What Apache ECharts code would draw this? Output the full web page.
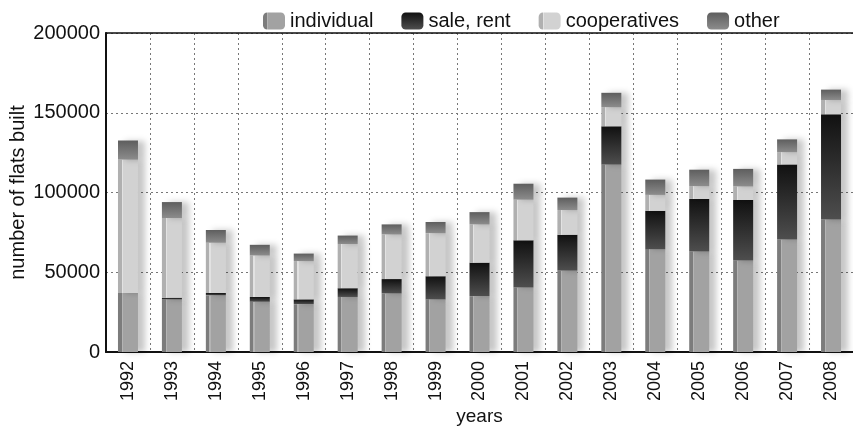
<!DOCTYPE html>
<html><head><meta charset="utf-8">
<script src="https://cdn.jsdelivr.net/npm/echarts@6/dist/echarts.min.js"></script>
<style>html,body{margin:0;padding:0;background:#fff}#c{width:853px;height:426px}</style>
</head><body><div id="c"></div>
<script>
var years = ['1992','1993','1994','1995','1996','1997','1998','1999','2000','2001','2002','2003','2004','2005','2006','2007','2008'];
var individual   = [37000, 33000, 35500, 31500, 30000, 34500, 36700, 33000, 35000, 40500, 51000, 117500, 64500, 63000, 57300, 70600, 83000];
var saleRent     = [0, 1000, 1500, 3000, 3000, 5500, 9000, 14500, 21000, 29500, 22500, 24000, 24000, 33000, 38000, 47000, 66000];
var cooperatives = [83600, 50000, 31500, 26000, 24000, 27700, 28000, 27000, 24000, 25500, 15500, 12000, 10000, 8000, 8500, 7700, 9000];
var other        = [12000, 10000, 8000, 6700, 4700, 5300, 6300, 7000, 7700, 10000, 7800, 9000, 9600, 10300, 11000, 8000, 6500];
var yTicks = [0, 50000, 100000, 150000, 200000];

function hgrad(strip, line, main){
  return {type:'linear',x:0,y:0,x2:1,y2:0,colorStops:[
    {offset:0,color:strip},{offset:0.18,color:strip},
    {offset:0.18,color:line},{offset:0.24,color:line},
    {offset:0.24,color:main},{offset:1,color:main}]};
}
function vgrad(top, bottom){
  return {type:'linear',x:0,y:0,x2:0,y2:1,colorStops:[{offset:0,color:top},{offset:1,color:bottom}]};
}
var shadow = {shadowColor:'rgba(0,0,0,0.22)', shadowBlur:6, shadowOffsetX:7, shadowOffsetY:0};
function mk(name, data, color){
  return {name:name, type:'bar', stack:'a', data:data, barWidth:20,
    itemStyle:Object.assign({color:color}, shadow), emphasis:{disabled:true}};
}
var font = 'Liberation Sans, Arial, sans-serif';
var chart = echarts.init(document.getElementById('c'), null, {renderer:'canvas'});
chart.setOption({
  animation:false,
  textStyle:{fontFamily:font},
  legend:{top:6, left:258, itemGap:28, itemWidth:22, itemHeight:17,
    textStyle:{fontSize:20, color:'#111', fontFamily:font},
    data:['individual','sale, rent','cooperatives','other']},
  grid:{left:106, right:0, top:33, bottom:74, containLabel:false, outerBoundsMode:'none'},
  xAxis:[{type:'category', data:years, boundaryGap:true,
    name:'years', nameLocation:'middle', nameGap:55, nameMoveOverlap:false,
    nameTextStyle:{fontSize:19, color:'#111'},
    axisLine:{lineStyle:{color:'#111', width:2}},
    axisTick:{show:false},
    axisLabel:{rotate:90, fontSize:18, color:'#111', margin:9, interval:0},
    splitLine:{show:true, lineStyle:{color:'#777', type:[2,3], width:1}}},
   {type:'category', position:'top', data:years,
    axisLine:{lineStyle:{color:'#111', width:1.5}}, axisTick:{show:false}, axisLabel:{show:false}}],
  yAxis:{type:'value', min:0, max:200000, interval:50000,
    name:'number of flats built', nameLocation:'middle', nameGap:78, nameRotate:90, nameMoveOverlap:false,
    nameTextStyle:{fontSize:20, color:'#111'},
    axisLine:{show:true, lineStyle:{color:'#111', width:2}},
    axisTick:{show:false},
    axisLabel:{fontSize:20, color:'#111', margin:6,
      formatter:function(v){return yTicks.indexOf(v)>=0 ? String(v) : '';}},
    splitLine:{show:true, lineStyle:{color:'#777', type:[2,3], width:1}}},
  series:[
    mk('individual', individual, hgrad('#7c7c7c','#b4b4b4','#a2a2a2')),
    mk('sale, rent', saleRent, vgrad('#111111','#4e4e4e')),
    mk('cooperatives', cooperatives, hgrad('#b0b0b0','#e2e2e2','#d2d2d2')),
    mk('other', other, vgrad('#5e5e5e','#8c8c8c'))
  ]
});
</script></body></html>
